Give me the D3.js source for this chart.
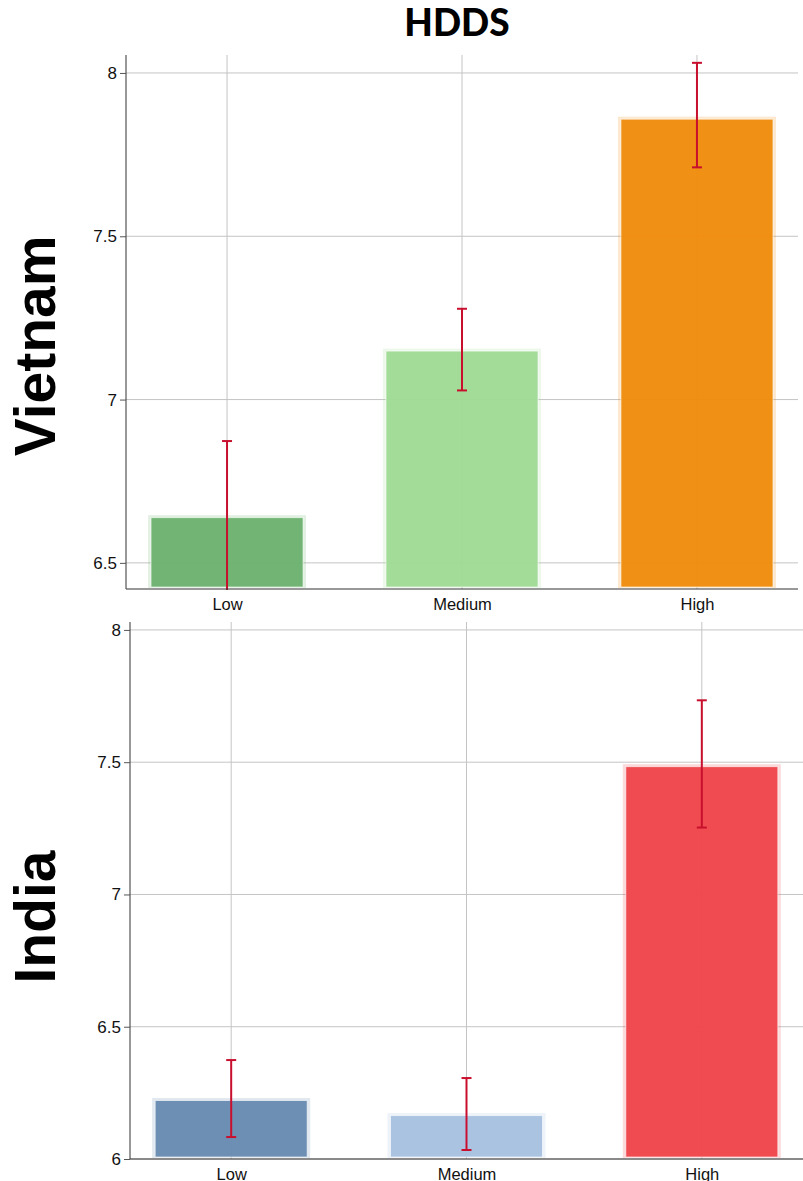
<!DOCTYPE html>
<html>
<head>
<meta charset="utf-8">
<script src="https://cdn.jsdelivr.net/npm/d3@7/dist/d3.min.js"></script>
<style>
  html, body { margin: 0; padding: 0; background: #fff; }
  svg { display: block; font-family: "Liberation Sans", Arial, Helvetica, sans-serif; }
</style>
</head>
<body>
<svg id="chart" width="803" height="1181"></svg>
<script>
// Household Dietary Diversity Score by group, per country
const categories = ["Low", "Medium", "High"];

const vietnamMeans = [6.64, 7.15, 7.86];
const vietnamLower = [6.407, 7.028, 7.711];
const vietnamUpper = [6.873, 7.278, 8.031];
const vietnamColors = ["#6db26f", "#a0da96", "#f08c0e"];
const vietnamTicks = [6.5, 7, 7.5, 8];

const indiaMeans = [6.223, 6.166, 7.485];
const indiaLower = [6.083, 6.034, 7.253];
const indiaUpper = [6.374, 6.306, 7.734];
const indiaColors = ["#6a8bb2", "#a7c1e0", "#ee464b"];
const indiaTicks = [6, 6.5, 7, 7.5, 8];

const svg = d3.select("#chart");

svg.append("text")
  .attr("x", 457).attr("y", 36)
  .attr("text-anchor", "middle")
  .style("font-family", "Lato, 'Open Sans', sans-serif")
  .style("font-weight", 900)
  .style("font-size", "37px")
  .text("HDDS");

function panel(opts) {
  const { label, means, lower, upper, colors, ticks, yDomain, x0, x1, yTop, yBottom, labelY } = opts;
  const g = svg.append("g");

  const x = d3.scalePoint().domain(categories).range([x0, x1]).padding(0.43);
  const y = d3.scaleLinear().domain(yDomain).range([yBottom, yTop]);
  const barW = 152;

  // grid
  g.append("g").selectAll("line.h").data(ticks).join("line")
    .attr("x1", x0).attr("x2", x1)
    .attr("y1", d => y(d)).attr("y2", d => y(d))
    .attr("stroke", "#c4c4c4").attr("stroke-width", 1);
  g.append("g").selectAll("line.v").data(categories).join("line")
    .attr("x1", d => x(d)).attr("x2", d => x(d))
    .attr("y1", yTop).attr("y2", yBottom)
    .attr("stroke", "#c4c4c4").attr("stroke-width", 1);

  // bars: soft halo + filled body
  const rows = categories.map((c, i) => ({ c, m: means[i], lo: lower[i], hi: upper[i], col: colors[i] }));
  g.append("g").selectAll("rect.halo").data(rows).join("rect")
    .attr("x", d => x(d.c) - barW / 2 - 3)
    .attr("y", d => y(d.m) - 2)
    .attr("width", barW + 6)
    .attr("height", d => yBottom - y(d.m) + 1)
    .attr("fill", d => d.col).attr("fill-opacity", 0.2);
  g.append("g").selectAll("rect.bar").data(rows).join("rect")
    .attr("x", d => x(d.c) - barW / 2)
    .attr("y", d => y(d.m) + 0.5)
    .attr("width", barW)
    .attr("height", d => yBottom - 2 - y(d.m) - 0.5)
    .attr("fill", d => d.col).attr("fill-opacity", 0.97)
    .attr("stroke", "#fff").attr("stroke-opacity", 0.6).attr("stroke-width", 1);

  // error bars, clipped to the plot area
  const clipId = "clip-" + label;
  svg.append("clipPath").attr("id", clipId).append("rect")
    .attr("x", x0).attr("y", yTop - 20).attr("width", x1 - x0).attr("height", yBottom - yTop + 21);
  const eb = g.append("g").attr("clip-path", `url(#${clipId})`)
    .attr("stroke", "#c8102e").attr("stroke-width", 2);
  eb.selectAll("line.stem").data(rows).join("line")
    .attr("x1", d => x(d.c)).attr("x2", d => x(d.c))
    .attr("y1", d => y(d.hi)).attr("y2", d => y(d.lo));
  eb.selectAll("line.capHi").data(rows).join("line")
    .attr("x1", d => x(d.c) - 5).attr("x2", d => x(d.c) + 5)
    .attr("y1", d => y(d.hi)).attr("y2", d => y(d.hi));
  eb.selectAll("line.capLo").data(rows).join("line")
    .attr("x1", d => x(d.c) - 5).attr("x2", d => x(d.c) + 5)
    .attr("y1", d => y(d.lo)).attr("y2", d => y(d.lo));

  // y axis
  const yAxis = g.append("g").attr("transform", `translate(${x0},0)`)
    .call(d3.axisLeft(y).tickValues(ticks).tickFormat(d3.format("")).tickSize(6).tickSizeOuter(0));
  yAxis.select(".domain").attr("stroke", "#333").attr("d", `M0,${yTop}V${yBottom}`);
  yAxis.selectAll(".tick line").attr("stroke", "#555");
  yAxis.selectAll(".tick text").attr("fill", "#111").style("font-size", "17px")
    .style("font-family", "'Liberation Sans', Arial, sans-serif").attr("x", -9);

  // x axis
  const xAxis = g.append("g").attr("transform", `translate(0,${yBottom})`)
    .call(d3.axisBottom(x).tickSize(0).tickSizeOuter(0));
  xAxis.select(".domain").attr("stroke", "#333").attr("d", `M${x0},0H${x1}`);
  xAxis.selectAll(".tick text").attr("fill", "#111").style("font-size", "16.5px")
    .style("font-family", "'Liberation Sans', Arial, sans-serif").attr("dy", "0").attr("y", 21);

  // row label
  svg.append("text")
    .attr("transform", `translate(55,${labelY}) rotate(-90)`)
    .attr("text-anchor", "middle")
    .style("font-family", "'Liberation Sans', Arial, sans-serif")
    .style("font-weight", 700)
    .style("font-size", "57px")
    .text(label);
}

panel({
  label: "Vietnam", means: vietnamMeans, lower: vietnamLower, upper: vietnamUpper,
  colors: vietnamColors, ticks: vietnamTicks, yDomain: [6.42, 8.055],
  x0: 126, x1: 798, yTop: 55, yBottom: 589, labelY: 346
});

panel({
  label: "India", means: indiaMeans, lower: indiaLower, upper: indiaUpper,
  colors: indiaColors, ticks: indiaTicks, yDomain: [6, 8.03],
  x0: 130, x1: 803, yTop: 622, yBottom: 1159, labelY: 917
});
</script>
</body>
</html>
